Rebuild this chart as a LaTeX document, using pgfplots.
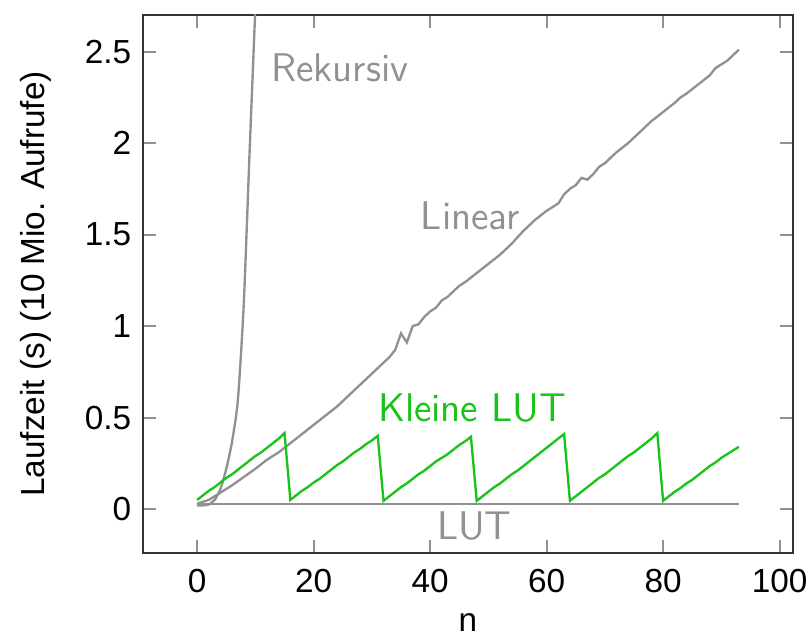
\documentclass[border=0pt]{standalone}
\usepackage{fontspec}
\setmainfont{Liberation Sans}
\usepackage{pgfplots}
\pgfplotsset{compat=1.18}
\definecolor{lgray}{RGB}{145,145,145}
\definecolor{lgreen}{RGB}{25,195,25}
\begin{document}
\begin{tikzpicture}
\begin{axis}[
  scale only axis,
  width=195pt, height=161.4pt,
  xmin=-9.3, xmax=102.3,
  ymin=-0.24, ymax=2.7,
  xtick={0,20,40,60,80,100},
  ytick={0,0.5,1,1.5,2,2.5},
  /pgf/number format/assume math mode=true,
  tick label style={font=\fontsize{10}{12}\selectfont},
  xticklabel shift=1.2pt,
  label style={font=\fontsize{10}{12}\selectfont},
  xlabel={n},
  xlabel shift=-0.6pt,
  ylabel={Laufzeit (s) (10 Mio. Aufrufe)},
  ylabel shift=3.3pt,
  axis line style={black!80, line width=0.7pt},
  tick style={lgray, line width=0.6pt},
  major tick length=4pt,
  clip=true,
]
% LUT
\addplot[lgray, line width=0.7pt] coordinates {(0,0.028) (93,0.028)};
% Linear
\addplot[lgray, line width=0.7pt] coordinates {
(0,0.03) (2,0.05) (4,0.09) (6,0.13) (8,0.175) (10,0.22) (12,0.27) (14,0.31)
(16,0.36) (18,0.41) (20,0.46) (22,0.51) (24,0.56) (26,0.62) (28,0.68) (30,0.74)
(32,0.80) (33,0.83) (34,0.87) (35,0.96) (36,0.91) (37,1.00) (38,1.01) (39,1.05)
(40,1.08) (41,1.10) (42,1.14) (43,1.16) (44,1.19) (45,1.22) (46,1.24) (48,1.29)
(50,1.34) (52,1.39) (54,1.45) (56,1.52) (58,1.58) (60,1.63) (62,1.67) (63,1.72)
(64,1.75) (65,1.77) (66,1.81) (67,1.80) (68,1.83) (69,1.87) (70,1.89) (72,1.95)
(74,2.00) (76,2.06) (78,2.12) (80,2.17) (82,2.22) (83,2.25) (84,2.27) (86,2.32)
(88,2.37) (89,2.41) (90,2.43) (91,2.45) (92,2.48) (93,2.51)
};
% Rekursiv
\addplot[lgray, line width=0.7pt, smooth, tension=0.4] coordinates {
(0,0.02) (1,0.02) (2,0.025) (3,0.05) (4,0.11) (5,0.22) (6,0.37) (7,0.60)
(8,1.12) (9,1.95) (10,2.75) (11,3.6)
};
% Kleine LUT
\addplot[lgreen, line width=0.7pt] coordinates {
(0,0.05) (1,0.075) (2,0.10) (3,0.12) (4,0.145) (5,0.17) (6,0.19) (7,0.215)
(8,0.24) (9,0.265) (10,0.29) (11,0.31) (12,0.335) (13,0.36) (14,0.385) (15,0.415)
(16,0.05) (17,0.075) (18,0.10) (19,0.12) (20,0.145) (21,0.165) (22,0.19) (23,0.215)
(24,0.24) (25,0.26) (26,0.285) (27,0.31) (28,0.33) (29,0.355) (30,0.375) (31,0.40)
(32,0.045) (33,0.07) (34,0.095) (35,0.12) (36,0.14) (37,0.165) (38,0.19) (39,0.21)
(40,0.235) (41,0.26) (42,0.28) (43,0.30) (44,0.325) (45,0.35) (46,0.37) (47,0.395)
(48,0.045) (49,0.07) (50,0.095) (51,0.12) (52,0.14) (53,0.165) (54,0.19) (55,0.21)
(56,0.235) (57,0.26) (58,0.285) (59,0.31) (60,0.335) (61,0.36) (62,0.385) (63,0.41)
(64,0.045) (65,0.07) (66,0.095) (67,0.12) (68,0.145) (69,0.17) (70,0.19) (71,0.215)
(72,0.24) (73,0.265) (74,0.29) (75,0.31) (76,0.335) (77,0.36) (78,0.385) (79,0.415)
(80,0.045) (81,0.07) (82,0.095) (83,0.115) (84,0.14) (85,0.16) (86,0.185) (87,0.21)
(88,0.235) (89,0.255) (90,0.28) (91,0.30) (92,0.32) (93,0.34)
};
\node[lgray, font=\sffamily\fontsize{12}{14}\selectfont] at (axis cs:24.5,2.41) {Rekursiv};
\node[lgray, font=\sffamily\fontsize{12}{14}\selectfont] at (axis cs:46.9,1.60) {Linear};
\node[lgreen, font=\sffamily\fontsize{12}{14}\selectfont] at (axis cs:47.2,0.55) {Kleine LUT};
\node[lgray, font=\sffamily\fontsize{12}{14}\selectfont] at (axis cs:47.6,-0.09) {LUT};
\end{axis}
\pgfresetboundingbox
\path ([shift={(-42.9pt,-25.8pt)}]current axis.south west) rectangle ([shift={(5.7pt,4.5pt)}]current axis.north east);
\end{tikzpicture}
\end{document}
